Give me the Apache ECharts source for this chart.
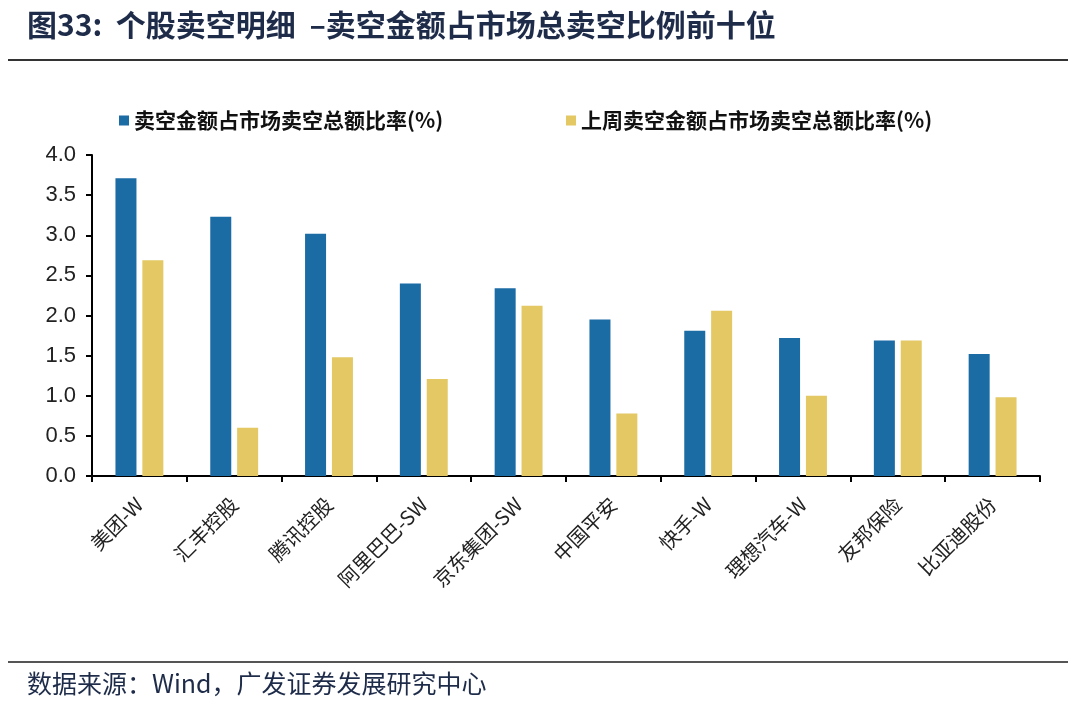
<!DOCTYPE html>
<html>
<head>
<meta charset="utf-8">
<script src="https://cdn.jsdelivr.net/npm/echarts@6/dist/echarts.min.js"></script>
<style>
html,body{margin:0;padding:0;background:#fff;}
#chart{width:1080px;height:712px;}
</style>
</head>
<body>
<div id="chart"></div>
<script>
const categories = ['美团-W','汇丰控股','腾讯控股','阿里巴巴-SW','京东集团-SW','中国平安','快手-W','理想汽车-W','友邦保险','比亚迪股份'];
const seriesNames = ['卖空金额占市场卖空总额比率(%)','上周卖空金额占市场卖空总额比率(%)'];
const thisWeek = [3.71, 3.23, 3.02, 2.40, 2.34, 1.95, 1.81, 1.72, 1.69, 1.52];
const lastWeek = [2.69, 0.60, 1.48, 1.21, 2.12, 0.78, 2.06, 1.00, 1.69, 0.98];
const yTicks = [0, 0.5, 1.0, 1.5, 2.0, 2.5, 3.0, 3.5, 4.0];
const titleText = '图33:  个股卖空明细  –卖空金额占市场总卖空比例前十位';
const sourceText = '数据来源：Wind，广发证券发展研究中心';

const chart = echarts.init(document.getElementById('chart'));
const cjk = '"Noto Sans CJK SC", "Liberation Sans", sans-serif';
chart.setOption({
  backgroundColor: '#ffffff',
  animation: false,
  graphic: [
    {type:'text', left: 27, top: 10, style:{text: titleText, font: 'bold 30px ' + cjk, fill:'#1e2c4a'}},
    {type:'line', shape:{x1:8, y1:60, x2:1068, y2:60}, style:{stroke:'#333333', lineWidth:2}},
    {type:'line', shape:{x1:8, y1:662, x2:1068, y2:662}, style:{stroke:'#555555', lineWidth:2}},
    {type:'text', left: 27, top: 671, style:{text: sourceText, font: '25px ' + cjk, fill:'#1e2c4a'}}
  ],
  legend: [
    {data:[seriesNames[0]], left: 114, top: 105, icon:'rect', itemWidth:10, itemHeight:10, itemGap: 6,
     textStyle:{fontFamily: cjk, fontSize: 21, fontWeight:'bold', color:'#111'}},
    {data:[seriesNames[1]], left: 561, top: 105, icon:'rect', itemWidth:10, itemHeight:10, itemGap: 6,
     textStyle:{fontFamily: cjk, fontSize: 21, fontWeight:'bold', color:'#111'}}
  ],
  grid: {left: 92, right: 40, top: 155, bottom: 236, containLabel: false},
  xAxis: {
    type:'category',
    data: categories,
    axisLine:{show:true, lineStyle:{color:'#000', width:2}},
    axisTick:{show:true, length:6, lineStyle:{color:'#000', width:2}},
    axisLabel:{rotate:45, fontSize:20, fontFamily: cjk, color:'#222', margin:25, interval:0}
  },
  yAxis: {
    type:'value',
    min: 0, max: 4, interval: 0.5,
    axisLine:{show:true, lineStyle:{color:'#000', width:2}},
    axisTick:{show:true, length:6, lineStyle:{color:'#000', width:2}},
    splitLine:{show:false},
    axisLabel:{fontSize:22, fontFamily:'"Liberation Sans", Arial, sans-serif', color:'#222', margin:16,
      formatter: v => yTicks.includes(v) ? v.toFixed(1) : ''}
  },
  series: [
    {name: seriesNames[0], type:'bar', data: thisWeek, barWidth: 21, barGap:'28%',
     itemStyle:{color:'#1b6ba5'}},
    {name: seriesNames[1], type:'bar', data: lastWeek, barWidth: 21, barGap:'28%',
     itemStyle:{color:'#e3c864'}}
  ]
});
</script>
</body>
</html>
